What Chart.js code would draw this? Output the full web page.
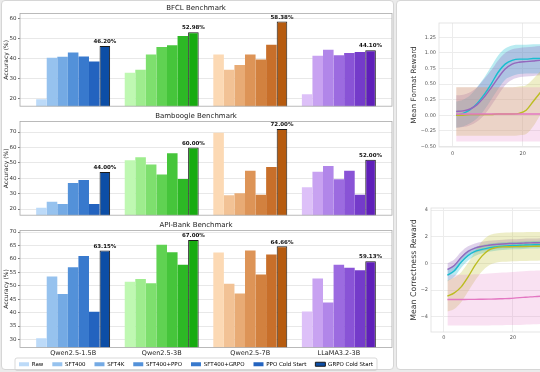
<!DOCTYPE html>
<html>
<head>
<meta charset="utf-8">
<script src="https://cdn.jsdelivr.net/npm/chart.js@4.4.1/dist/chart.umd.min.js"></script>
<style>
html, body { margin: 0; padding: 0; width: 540px; height: 372px; overflow: hidden; background: #ebebeb; }
.card { position: absolute; background: #fff; border: 1px solid #d6d6d6; border-radius: 4px; }
canvas { position: absolute; }
</style>
</head>
<body>
<div class="card" style="left:1px;top:0px;width:391px;height:368px"></div>
<div class="card" style="left:396px;top:0px;width:160px;height:368px"></div>
<canvas id="bfcl" width="395" height="111" style="left:0;top:0"></canvas>
<canvas id="bamboogle" width="395" height="112" style="left:0;top:108px"></canvas>
<canvas id="apibank" width="395" height="165" style="left:0;top:217px"></canvas>
<canvas id="formatReward" width="260" height="165" style="left:397px;top:0"></canvas>
<canvas id="correctReward" width="260" height="165" style="left:397px;top:185px"></canvas>
<script>
Chart.defaults.font.family = '"DejaVu Sans", sans-serif';
Chart.defaults.animation = false;

// bar panels: rows = models, columns = training methods
const groups = ['Qwen2.5-1.5B', 'Qwen2.5-3B', 'Qwen2.5-7B', 'LLaMA3.2-3B'];
const methods = ['Raw', 'SFT400', 'SFT4K', 'SFT400+PPO', 'SFT400+GRPO', 'PPO Cold Start', 'GRPO Cold Start'];

const bfclScores = [
    [19.7, 40.3, 40.8, 42.9, 41.0, 38.4, 46.20],
    [32.9, 34.3, 41.9, 45.7, 46.5, 51.1, 52.98],
    [41.9, 34.3, 36.7, 42.0, 39.5, 46.8, 58.38],
    [22.2, 41.3, 44.3, 41.6, 42.7, 43.2, 44.10]
];
const bamboogleScores = [
    [20.9, 24.8, 23.3, 36.9, 38.8, 23.3, 44.00],
    [51.6, 53.7, 48.9, 42.5, 56.2, 39.5, 60.00],
    [69.6, 28.9, 30.3, 44.8, 29.3, 47.3, 72.00],
    [34.2, 44.2, 48.0, 39.4, 44.8, 29.3, 52.00]
];
const apiBankScores = [
    [30.4, 53.4, 46.9, 56.9, 61.1, 40.3, 63.15],
    [51.5, 52.5, 50.9, 65.3, 62.5, 57.8, 67.00],
    [62.4, 50.7, 47.1, 63.1, 54.2, 61.6, 64.66],
    [40.4, 52.7, 43.8, 57.8, 56.7, 55.8, 59.13]
];

// reward curves (training step on x)
const rewardSteps = [1, 3, 5, 7, 9, 11, 13, 15, 17, 19, 21, 23, 25, 27, 29];

const formatCyanMean = [0.00, 0.03, 0.09, 0.19, 0.33, 0.50, 0.69, 0.82, 0.88, 0.90, 0.90, 0.91, 0.91, 0.91, 0.91];
const formatCyanLow = [-0.20, -0.18, -0.13, -0.05, 0.08, 0.25, 0.42, 0.57, 0.63, 0.66, 0.67, 0.67, 0.67, 0.67, 0.67];
const formatCyanHigh = [0.22, 0.25, 0.32, 0.45, 0.60, 0.78, 0.96, 1.07, 1.12, 1.13, 1.13, 1.14, 1.14, 1.14, 1.14];
const formatPurpleMean = [0.06, 0.07, 0.10, 0.17, 0.29, 0.44, 0.60, 0.74, 0.82, 0.85, 0.86, 0.87, 0.88, 0.88, 0.88];
const formatPurpleLow = [-0.20, -0.19, -0.16, -0.10, 0.00, 0.15, 0.32, 0.48, 0.57, 0.61, 0.62, 0.63, 0.64, 0.64, 0.64];
const formatPurpleHigh = [0.32, 0.33, 0.37, 0.45, 0.58, 0.72, 0.88, 1.00, 1.06, 1.08, 1.09, 1.10, 1.11, 1.11, 1.11];
const formatOliveMean = [0.00, 0.00, 0.01, 0.01, 0.01, 0.01, 0.02, 0.02, 0.02, 0.03, 0.08, 0.22, 0.36, 0.50, 0.62];
const formatOliveLow = [-0.33, -0.33, -0.33, -0.33, -0.33, -0.33, -0.33, -0.33, -0.33, -0.32, -0.30, -0.18, 0.00, 0.15, 0.30];
const formatOliveHigh = [0.45, 0.45, 0.45, 0.45, 0.45, 0.45, 0.45, 0.45, 0.45, 0.46, 0.48, 0.58, 0.70, 0.82, 0.90];
const formatPinkMean = [0.02, 0.02, 0.02, 0.02, 0.02, 0.02, 0.02, 0.02, 0.02, 0.02, 0.02, 0.02, 0.02, 0.02, 0.02];
const formatPinkLow = [-0.42, -0.42, -0.42, -0.42, -0.42, -0.42, -0.42, -0.42, -0.42, -0.42, -0.42, -0.42, -0.42, -0.42, -0.42];
const formatPinkHigh = [0.45, 0.45, 0.45, 0.45, 0.45, 0.45, 0.45, 0.45, 0.45, 0.45, 0.45, 0.45, 0.45, 0.45, 0.45];

const corrPurpleMean = [-0.45, -0.15, 0.45, 0.90, 1.15, 1.28, 1.36, 1.42, 1.46, 1.49, 1.50, 1.52, 1.54, 1.55, 1.56];
const corrPurpleLow = [-0.95, -0.62, 0.02, 0.52, 0.80, 0.94, 1.03, 1.09, 1.13, 1.16, 1.18, 1.20, 1.22, 1.23, 1.24];
const corrPurpleHigh = [0.02, 0.30, 0.88, 1.28, 1.50, 1.62, 1.69, 1.74, 1.78, 1.81, 1.82, 1.84, 1.86, 1.87, 1.88];
const corrCyanMean = [-0.88, -0.55, 0.10, 0.60, 0.90, 1.05, 1.17, 1.24, 1.29, 1.33, 1.35, 1.37, 1.39, 1.40, 1.41];
const corrCyanLow = [-1.35, -1.00, -0.32, 0.22, 0.56, 0.74, 0.87, 0.95, 1.00, 1.05, 1.07, 1.09, 1.11, 1.12, 1.13];
const corrCyanHigh = [-0.42, -0.10, 0.52, 0.98, 1.24, 1.37, 1.47, 1.53, 1.58, 1.61, 1.63, 1.65, 1.67, 1.68, 1.69];
const corrOliveMean = [-2.45, -2.20, -1.75, -1.00, -0.15, 0.55, 1.00, 1.18, 1.24, 1.25, 1.26, 1.27, 1.28, 1.29, 1.30];
const corrOliveLow = [-3.60, -3.40, -2.90, -2.10, -1.30, -0.60, -0.15, 0.05, 0.12, 0.15, 0.17, 0.18, 0.20, 0.21, 0.22];
const corrOliveHigh = [-1.25, -1.05, -0.65, 0.05, 0.90, 1.65, 2.10, 2.25, 2.30, 2.32, 2.33, 2.34, 2.35, 2.36, 2.36];
const corrPinkMean = [-2.70, -2.70, -2.70, -2.69, -2.69, -2.68, -2.67, -2.66, -2.64, -2.62, -2.58, -2.54, -2.50, -2.47, -2.44];
const corrPinkLow = [-4.65, -4.65, -4.65, -4.65, -4.65, -4.65, -4.64, -4.63, -4.62, -4.61, -4.60, -4.58, -4.56, -4.55, -4.54];
const corrPinkHigh = [-0.85, -0.85, -0.84, -0.82, -0.80, -0.78, -0.75, -0.72, -0.68, -0.65, -0.62, -0.58, -0.55, -0.52, -0.50];

// colours
const blueShades = ['#bcdaf8', '#96c2ee', '#74aae4', '#5391d9', '#3879cd', '#2363bf', '#0c4ea6'];
const greenShades = ['#bff8b2', '#9eec8e', '#7edf6e', '#60d252', '#46c53b', '#2db825', '#17ab10'];
const orangeShades = ['#fcd9b4', '#f2c295', '#e8ab75', '#dd9457', '#d2813f', '#c86f2a', '#b65b0f'];
const purpleShades = ['#ddc0f8', '#c8a2f1', '#b186e9', '#9c6be0', '#8953d6', '#743bca', '#5f1fb9'];
const palettes = [blueShades, greenShades, orangeShades, purpleShades];

const frame = {
    id: 'frame',
    afterDatasetsDraw(chart, args, opts) {
        let a = chart.chartArea;
        let ctx = chart.ctx;
        ctx.save();
        ctx.strokeStyle = opts.color || '#aaa';
        ctx.lineWidth = 0.8;
        ctx.strokeRect(a.left, a.top, a.right - a.left, a.bottom - a.top);
        ctx.restore();
    }
};

const valueLabels = {
    id: 'valueLabels',
    afterDatasetsDraw(chart) {
        let last = chart.data.datasets.length - 1;
        let meta = chart.getDatasetMeta(last);
        let ctx = chart.ctx;
        ctx.save();
        ctx.font = 'bold 5.5px "DejaVu Sans"';
        ctx.fillStyle = '#111';
        ctx.textAlign = 'center';
        ctx.textBaseline = 'bottom';
        meta.data.forEach(function(bar, i) {
            ctx.fillText(chart.data.datasets[last].data[i].y.toFixed(2) + '%', bar.x, bar.y - 1.5);
        });
        ctx.restore();
    }
};

// pull the legend up a little so it sits close under the tick labels
const legendShift = {
    id: 'legendShift',
    afterLayout(chart, args, opts) {
        if (chart.legend && opts.dy) {
            chart.legend.top += opts.dy;
            chart.legend.bottom += opts.dy;
        }
    }
};

const legendFrame = {
    id: 'legendFrame',
    afterDraw(chart) {
        let lg = chart.legend;
        if (!lg || !lg.options.display || !lg.legendHitBoxes || !lg.legendHitBoxes.length) return;
        let boxes = lg.legendHitBoxes;
        let first = boxes[0];
        let lastBox = boxes[boxes.length - 1];
        let ctx = chart.ctx;
        ctx.save();
        ctx.strokeStyle = '#cfcfcf';
        ctx.lineWidth = 0.8;
        ctx.beginPath();
        ctx.roundRect(first.left - 4, first.top - 3.5, lastBox.left + lastBox.width - first.left + 8, first.height + 7, 2);
        ctx.stroke();
        ctx.restore();
    }
};

function createBarPanel(id, title, scores, yMin, yMax, yStep, showAxis) {
    let datasets = [];
    for (let j = 0; j < methods.length; j++) {
        let pts = [];
        for (let i = 0; i < groups.length; i++) {
            pts.push({x: i, y: scores[i][j]});
        }
        datasets.push({
            label: methods[j],
            data: pts,
            backgroundColor: palettes.map(p => p[j]),
            borderColor: j == methods.length - 1 ? '#1a1a1a' : 'rgba(0,0,0,0)',
            borderWidth: j == methods.length - 1 ? 1 : 0,
            borderSkipped: false,
            categoryPercentage: 0.835,
            barPercentage: 1.0
        });
    }
    new Chart(document.getElementById(id), {
        type: 'bar',
        data: {datasets: datasets},
        options: {
            responsive: false,
            layout: {padding: {top: 4, right: 3, left: 0, bottom: showAxis ? 0 : 1}},
            plugins: {
                title: {
                    display: true,
                    text: title,
                    color: '#222',
                    font: {size: 7, weight: 'normal'},
                    padding: {top: 0, bottom: 1}
                },
                legend: {
                    display: showAxis,
                    position: 'bottom',
                    labels: {
                        boxWidth: 10,
                        boxHeight: 4,
                        padding: 9,
                        color: '#333',
                        font: {size: 5.5},
                        generateLabels: function() {
                            return methods.map((m, j) => ({
                                text: m,
                                fillStyle: blueShades[j],
                                strokeStyle: j == methods.length - 1 ? '#1a1a1a' : blueShades[j],
                                lineWidth: j == methods.length - 1 ? 1 : 0,
                                hidden: false,
                                datasetIndex: j
                            }));
                        }
                    }
                },
                legendShift: {dy: showAxis ? -5 : 0},
                tooltip: {enabled: false},
                frame: {color: '#a9a9a9'}
            },
            scales: {
                x: {
                    type: 'linear',
                    min: -0.6,
                    max: 3.6,
                    offset: false,
                    grid: {display: false, drawTicks: false},
                    border: {display: false},
                    afterBuildTicks: function(s) { s.ticks = groups.map((g, i) => ({value: i})); },
                    afterFit: function(s) { s.height = showAxis ? 10 : 0; },
                    ticks: {
                        display: showAxis,
                        callback: v => groups[v],
                        color: '#222',
                        font: {size: 6.5},
                        padding: 2,
                        maxRotation: 0,
                        autoSkip: false
                    }
                },
                y: {
                    min: yMin,
                    max: yMax,
                    afterFit: function(s) { s.width = 20; },
                    grid: {color: '#e8e8e8', tickColor: '#777', tickLength: 2},
                    border: {display: false},
                    ticks: {stepSize: yStep, includeBounds: false, color: '#333', font: {size: 5.5}, padding: 1.5},
                    title: {display: true, text: 'Accuracy (%)', color: '#222', font: {size: 6}, padding: {top: 3, bottom: 0}}
                }
            }
        },
        plugins: [frame, valueLabels, legendShift, legendFrame]
    });
}

function toPoints(steps, values) {
    let pts = [];
    for (let i = 0; i < steps.length; i++) pts.push({x: steps[i], y: values[i]});
    return pts;
}

function createRewardChart(id, yTitle, titleSize, series, yMin, yMax, yStep, xMin, xMax, axisWidth, titlePad, xTickPad, fmt) {
    let lines = [];
    let bands = [];
    series.forEach(function(s) {
        lines.push({
            data: toPoints(rewardSteps, s.mean),
            borderColor: s.color,
            borderWidth: 1.4,
            pointRadius: 0,
            fill: false,
            cubicInterpolationMode: 'monotone'
        });
        bands.push({
            data: toPoints(rewardSteps, s.low),
            borderWidth: 0,
            pointRadius: 0,
            fill: false,
            cubicInterpolationMode: 'monotone'
        });
        bands.push({
            data: toPoints(rewardSteps, s.high),
            borderWidth: 0,
            pointRadius: 0,
            fill: '-1',
            backgroundColor: s.band,
            cubicInterpolationMode: 'monotone'
        });
    });
    new Chart(document.getElementById(id), {
        type: 'line',
        data: {datasets: lines.concat(bands)},
        options: {
            responsive: false,
            layout: {padding: {top: 23, right: 0, left: 0, bottom: 6}},
            plugins: {
                legend: {display: false},
                tooltip: {enabled: false},
                frame: {color: '#dedede'}
            },
            scales: {
                x: {
                    type: 'linear',
                    min: xMin,
                    max: xMax,
                    afterFit: function(s) { s.height = 12; },
                    grid: {color: '#ececec', drawTicks: false},
                    border: {display: false},
                    ticks: {stepSize: 20, includeBounds: false, color: '#555', font: {size: 5}, padding: xTickPad}
                },
                y: {
                    min: yMin,
                    max: yMax,
                    afterFit: function(s) { s.width = axisWidth; },
                    grid: {color: '#ececec', drawTicks: false},
                    border: {display: false},
                    ticks: {stepSize: yStep, includeBounds: false, color: '#555', font: {size: 5}, padding: 3, callback: fmt},
                    title: {display: true, text: yTitle, color: '#333', font: {size: titleSize}, padding: {top: titlePad, bottom: 0}}
                }
            }
        },
        plugins: [frame]
    });
}

createBarPanel('bfcl', 'BFCL Benchmark', bfclScores, 16.2, 62.4, 10, false);
createBarPanel('bamboogle', 'Bamboogle Benchmark', bamboogleScores, 16, 76.9, 10, false);
createBarPanel('apibank', 'API-Bank Benchmark', apiBankScores, 27, 70.6, 5, true);

createRewardChart('formatReward', 'Mean Format Reward', 7.3, [
    {mean: formatPinkMean, low: formatPinkLow, high: formatPinkHigh, color: '#e377c2', band: 'rgba(227,119,194,0.22)'},
    {mean: formatOliveMean, low: formatOliveLow, high: formatOliveHigh, color: '#bcbd22', band: 'rgba(188,189,34,0.25)'},
    {mean: formatPurpleMean, low: formatPurpleLow, high: formatPurpleHigh, color: '#9467bd', band: 'rgba(148,103,189,0.3)'},
    {mean: formatCyanMean, low: formatCyanLow, high: formatCyanHigh, color: '#17becf', band: 'rgba(23,190,207,0.3)'}
], -0.51, 1.48, 0.25, -3.9, 58.4, 42, 12.6, 4,
    v => (v < -1e-9 ? '\u2212' : '') + Math.abs(v).toFixed(2));

createRewardChart('correctReward', 'Mean Correctness Reward', 7.8, [
    {mean: corrPinkMean, low: corrPinkLow, high: corrPinkHigh, color: '#e377c2', band: 'rgba(227,119,194,0.22)'},
    {mean: corrOliveMean, low: corrOliveLow, high: corrOliveHigh, color: '#bcbd22', band: 'rgba(188,189,34,0.25)'},
    {mean: corrCyanMean, low: corrCyanLow, high: corrCyanHigh, color: '#17becf', band: 'rgba(23,190,207,0.3)'},
    {mean: corrPurpleMean, low: corrPurpleLow, high: corrPurpleHigh, color: '#9467bd', band: 'rgba(148,103,189,0.3)'}
], -5.13, 4.15, 2, -3.76, 60.2, 34, 12.3, 3,
    v => (v < 0 ? '\u2212' : '') + Math.abs(v));
</script>
</body>
</html>
